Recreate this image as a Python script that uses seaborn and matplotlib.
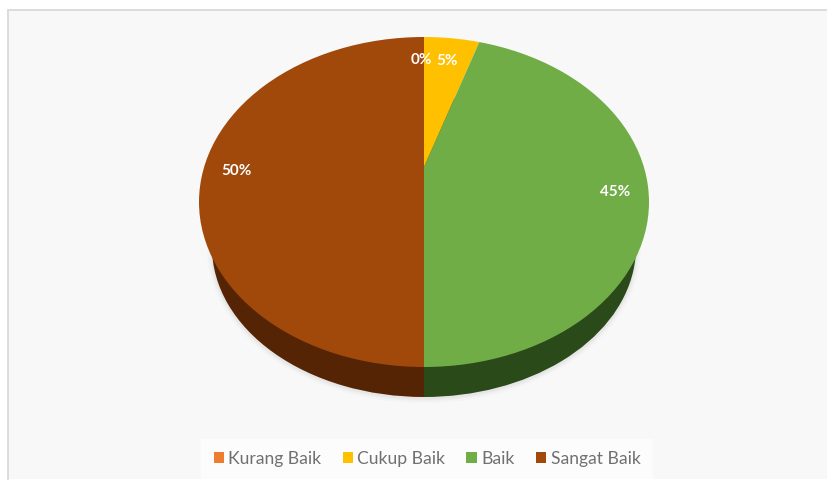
import matplotlib
matplotlib.use("Agg")
import matplotlib.pyplot as plt
import seaborn as sns
from matplotlib.patches import Circle, Ellipse
from matplotlib.transforms import Affine2D

categories = ["Kurang Baik", "Cukup Baik", "Baik", "Sangat Baik"]
values = [0, 5, 45, 50]
colors = ["#ED7D31", "#FFC000", "#70AD47", "#A0490B"]
side_colors = ["#5C2A07", "#7A5C00", "#2B4A1A", "#552405"]

sns.set_theme(style="white")
plt.rcParams["font.family"] = ["Lato", "DejaVu Sans"]

W, H = 827, 486
fig = plt.figure(figsize=(W / 100, H / 100), dpi=100, facecolor="white")
PL, PR, PT, PB = 8, 827, 10, 479
ax = fig.add_axes([PL / W, (H - PB) / H, (PR - PL) / W, (PB - PT) / H])

CX, CY, RX, RY = 424, 202, 225, 165
# lower rim of the disc: a slightly smaller ellipse further down (perspective)
CY2, RX2, RY2 = 247, 212, 150


def dx(px):
    return (px - CX) / RX


def dy(py):
    return (CY - py) / RY


# soft shadow under the disc
for grow, a in [(5, 0.03), (3, 0.05), (1.5, 0.07)]:
    ax.add_patch(Ellipse((0, dy(CY2 + 1)), 2 * (RX2 + grow) / RX, 2 * (RY2 + grow) / RY,
                         facecolor="#888888", edgecolor="none", alpha=a, zorder=0.5))

# side wall: the same pie in dark tones, scaled to the lower rim
side, _ = ax.pie(values, colors=side_colors, startangle=90, counterclock=False,
                 radius=1.0, center=(0, 0), frame=True,
                 wedgeprops={"linewidth": 0, "zorder": 1})
for w in side:
    w.set_transform(Affine2D().scale(RX2 / RX, RY2 / RY).translate(0, dy(CY2)) + ax.transData)

# top face: perspective centre sits above the ellipse centre, clipped to the ellipse
wedges, _ = ax.pie(values, colors=colors, startangle=90, counterclock=False,
                   radius=1.4, center=(0, dy(167)), frame=True,
                   wedgeprops={"linewidth": 0, "zorder": 2})
clip = Circle((0, 0), 1.0, transform=ax.transData)
for w in wedges:
    w.set_clip_on(True)
    w.set_clip_path(clip)

ax.set_aspect("auto")
ax.set_xlim(dx(PL), dx(PR))
ax.set_ylim(dy(PB), dy(PT))
ax.set_xticks([])
ax.set_yticks([])
ax.set_frame_on(True)
ax.set_facecolor("#F8F8F8")
for name, sp in ax.spines.items():
    sp.set_visible(name in ("top", "left"))
    sp.set_color("#DCDCDC")
    sp.set_linewidth(1.4)

# data labels
label_pos = [(421, 60), (447, 61), (615, 192), (237, 171)]
for v, (px, py) in zip(values, label_pos):
    ax.text(dx(px), dy(py), f"{v}%", color="#FFFFFF", fontsize=11, fontweight="bold",
            ha="center", va="center", zorder=5)

# legend
handles = [plt.Rectangle((0, 0), 1, 1, facecolor=c, edgecolor="none") for c in colors]
leg = ax.legend(handles, categories, loc="center", bbox_to_anchor=(dx(427), dy(459)),
                bbox_transform=ax.transData, ncol=4, frameon=True, fontsize=12.6,
                facecolor="#FCFCFC", edgecolor="none", framealpha=1, fancybox=False,
                handlelength=0.6, handleheight=0.6, handletextpad=0.25,
                columnspacing=1.2, labelcolor="#707070", borderpad=0.7)
leg.set_zorder(6)

fig.savefig("out.png", dpi=100, facecolor="white")
